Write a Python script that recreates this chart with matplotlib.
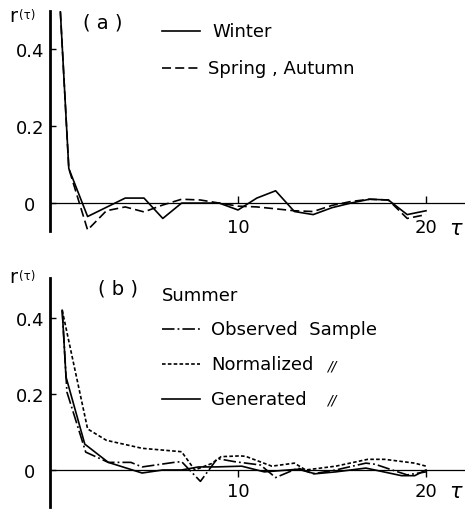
import matplotlib
matplotlib.use("Agg")
import matplotlib.pyplot as plt
from matplotlib.lines import Line2D

plt.rcParams['lines.scale_dashes'] = False
plt.rcParams['font.family'] = ['DejaVu Sans']

# ---------------- data ----------------
# panel (a): lags 0..20
lag_a = [0, 1, 2, 3, 4, 5, 6, 7, 8, 9, 10, 11, 12, 13, 14, 15, 16, 17, 18, 19, 20]
winter = [1.0, 0.09, -0.035, -0.011, 0.013, 0.013, -0.04, 0.0, 0.0, 0.0, -0.018,
          0.013, 0.032, -0.022, -0.03, -0.012, 0.0, 0.01, 0.008, -0.03, -0.02]
spring_autumn = [1.0, 0.09, -0.07, -0.02, -0.01, -0.023, -0.005, 0.01, 0.008, 0.0, -0.008,
                 -0.01, -0.015, -0.02, -0.022, -0.006, 0.004, 0.01, 0.008, -0.04, -0.03]

# panel (b): summer (lag positions)
lag_obs = [0.65, 0.9, 1.9, 3.1, 4.3, 4.9, 6.6, 7.0, 8.0, 8.9, 9.8, 11.2, 12.0, 13.2,
           14.0, 15.2, 16.8, 17.3, 18.2, 19.0, 20.0]
r_obs = [0.42, 0.205, 0.047, 0.02, 0.02, 0.008, 0.02, 0.022, -0.03, 0.03, 0.022, 0.013,
         -0.02, 0.005, -0.01, 0.0, 0.018, 0.015, 0.0, -0.013, -0.005]
lag_norm = [0.65, 2.0, 3.0, 4.9, 7.0, 7.7, 8.6, 9.1, 10.1, 10.4, 11.8, 13.0, 13.6,
            15.2, 16.9, 17.8, 19.4, 20.0]
r_norm = [0.42, 0.108, 0.078, 0.057, 0.048, 0.0, 0.017, 0.035, 0.037, 0.036, 0.01,
          0.018, 0.0, 0.01, 0.028, 0.028, 0.018, 0.01]
lag_gen = [0.65, 0.85, 1.85, 3.1, 4.9, 6.0, 7.0, 7.9, 8.8, 10.2, 11.4, 13.2, 14.1,
           15.2, 16.8, 18.7, 19.4, 20.0]
r_gen = [0.42, 0.245, 0.068, 0.02, -0.008, 0.0, 0.0, 0.008, 0.008, 0.01, -0.005,
         0.002, -0.01, -0.005, 0.005, -0.015, -0.015, 0.0]

yticks = [0, 0.2, 0.4]
ytick_labels = ['0', '0.2', '0.4']
xticks = [10, 20]
xtick_labels = ['10', '20']

# ---------------- styles ----------------
LW = 1.2
DASH_LONG = (0, (6.5, 3.0))
DASH_SHORT = (0, (2.6, 1.6))
DASH_DOT = (0, (9.0, 2.2, 1.3, 2.2))
FS = 13

W, H = 465, 510
fig = plt.figure(figsize=(W / 100, H / 100), dpi=100)


def rect(left, top, right, bottom):
    return [left / W, 1 - bottom / H, (right - left) / W, (bottom - top) / H]


def fx(px):
    return px / W


def fy(py):
    return 1 - py / H


def style_axes(ax, tickdir, xpad):
    for s in ('top', 'right'):
        ax.spines[s].set_visible(False)
    ax.spines['left'].set_linewidth(2.0)
    ax.spines['bottom'].set_position(('data', 0))
    ax.spines['bottom'].set_linewidth(0.9)
    ax.set_yticks(yticks)
    ax.set_yticklabels(ytick_labels)
    ax.tick_params(axis='y', direction='in', length=4.5, width=1.0,
                   pad=14.5, labelsize=FS)
    for lab in ax.get_yticklabels():
        lab.set_horizontalalignment('center')
    ax.set_xticks(xticks)
    ax.set_xticklabels(xtick_labels)
    ax.tick_params(axis='x', direction=tickdir, length=5, width=1.0,
                   pad=xpad, labelsize=FS)
    ax.patch.set_visible(False)


# ---------------- panel (a) ----------------
axa = fig.add_axes(rect(50, 12, 465, 232))
axa.set_xlim(0, 415 / 18.8)
axa.set_ylim(-0.0727, 0.5)
style_axes(axa, 'in', 11)
axa.plot(lag_a, winter, color='black', lw=LW, linestyle='-', clip_on=True)
axa.plot(lag_a, spring_autumn, color='black', lw=LW, linestyle=DASH_LONG, clip_on=True)

# ---------------- panel (b) ----------------
axb = fig.add_axes(rect(50, 279, 465, 508))
axb.set_xlim(0, 415 / 18.8)
axb.set_ylim(-0.0974, 0.505)
style_axes(axb, 'out', 3.5)
axb.plot(lag_obs, r_obs, color='black', lw=LW, linestyle=DASH_DOT)
axb.plot(lag_norm, r_norm, color='black', lw=LW, linestyle=DASH_SHORT)
axb.plot(lag_gen, r_gen, color='black', lw=LW, linestyle='-')

# ---------------- annotations ----------------
# y-axis labels r(tau)
for top in (17, 278):
    fig.text(fx(9), fy(top), 'r', fontsize=14, ha='left', va='center')
    fig.text(fx(19), fy(top - 1), '(τ)', fontsize=8.5, ha='left', va='center')

# tau labels on x axis
fig.text(fx(456), fy(229), r'$\tau$', fontsize=15, ha='center', va='center')
fig.text(fx(456), fy(492), r'$\tau$', fontsize=15, ha='center', va='center')

# panel labels
fig.text(fx(103), fy(23), '( a )', fontsize=14, ha='center', va='center')
fig.text(fx(118), fy(289), '( b )', fontsize=14, ha='center', va='center')

# legend (a)
def legend_line(y, ls):
    fig.add_artist(Line2D([fx(162), fx(200)], [fy(y), fy(y)], color='black',
                          lw=LW, linestyle=ls))

legend_line(32, '-')
fig.text(fx(212), fy(32), 'Winter', fontsize=FS, ha='left', va='center')
legend_line(69, DASH_LONG)
fig.text(fx(208), fy(69), 'Spring , Autumn', fontsize=FS, ha='left', va='center')

# legend (b)
fig.text(fx(162), fy(296), 'Summer', fontsize=FS, ha='left', va='center')
legend_line(330, DASH_DOT)
fig.text(fx(211), fy(330), 'Observed  Sample', fontsize=FS, ha='left', va='center')
legend_line(365, DASH_SHORT)
fig.text(fx(211), fy(365), 'Normalized', fontsize=FS, ha='left', va='center')
fig.text(fx(332), fy(366), '//', fontsize=10, ha='center', va='center',
         style='italic')
legend_line(400, '-')
fig.text(fx(211), fy(400), 'Generated', fontsize=FS, ha='left', va='center')
fig.text(fx(332), fy(401), '//', fontsize=10, ha='center', va='center',
         style='italic')

fig.savefig('out.png', dpi=100)
